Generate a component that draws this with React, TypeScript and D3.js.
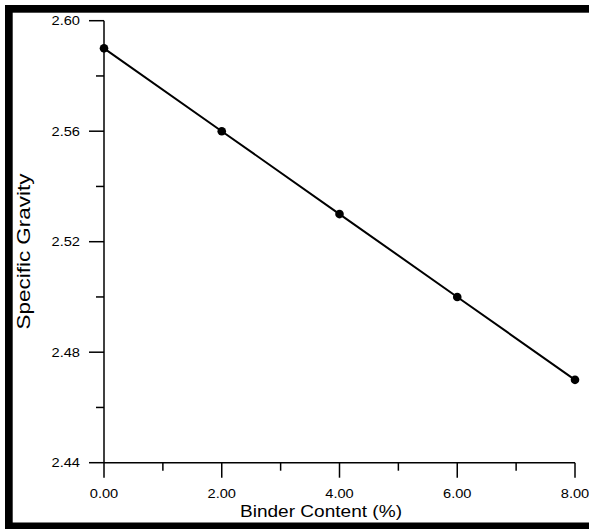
import React from "react";
import * as d3 from "d3";

const binderContent = [0, 2, 4, 6, 8];
const specificGravity = [2.59, 2.56, 2.53, 2.5, 2.47];
const xMajorTicks = [0, 2, 4, 6, 8];
const xMinorTicks = [1, 3, 5, 7];
const yMajorTicks = [2.44, 2.48, 2.52, 2.56, 2.6];
const yMinorTicks = [2.46, 2.5, 2.54, 2.58];
const xTitle = "Binder Content (%)";
const yTitle = "Specific Gravity";

const W = 589;
const H = 529;
const left = 104;
const right = 575;
const top = 20.7;
const bottom = 462.7;
const FONT = "'Liberation Sans', Arial, sans-serif";

export default function App() {
  const x = d3.scaleLinear().domain([0, 8]).range([left, right]);
  const y = d3.scaleLinear().domain([2.44, 2.6]).range([bottom, top]);
  const line = d3
    .line<number>()
    .x((_, i) => x(binderContent[i]))
    .y((d) => y(d));

  return (
    <div style={{ position: "absolute", left: 0, top: 0, width: W, height: H, overflow: "hidden" }}>
      <svg width={W} height={H} style={{ display: "block", background: "#fff" }}>
        <rect x={0} y={0} width={W} height={H} fill="#fff" />
        {/* frame */}
        <rect x={5} y={5} width={W - 5} height={7.7} fill="#000" />
        <rect x={5} y={5} width={7.7} height={H - 5} fill="#000" />
        <rect x={5} y={522.5} width={W - 5} height={H - 522.5} fill="#000" />
        {/* axes */}
        <line x1={left} x2={left} y1={top} y2={bottom} stroke="#000" strokeWidth={1.5} />
        <line x1={left} x2={right} y1={bottom} y2={bottom} stroke="#000" strokeWidth={1.5} />
        {yMajorTicks.map((t) => (
          <g key={"ym" + t}>
            <line x1={left - 15} x2={left} y1={y(t)} y2={y(t)} stroke="#000" strokeWidth={1.5} />
            <text
              x={80}
              y={y(t) + 4.7}
              textAnchor="end"
              fontFamily={FONT}
              fontSize={13}
              textLength={28.5}
              lengthAdjust="spacingAndGlyphs"
              fill="#000"
            >
              {t.toFixed(2)}
            </text>
          </g>
        ))}
        {yMinorTicks.map((t) => (
          <line key={"yn" + t} x1={left - 8} x2={left} y1={y(t)} y2={y(t)} stroke="#000" strokeWidth={1.5} />
        ))}
        {xMajorTicks.map((t) => (
          <g key={"xm" + t}>
            <line x1={x(t)} x2={x(t)} y1={bottom} y2={bottom + 15} stroke="#000" strokeWidth={1.5} />
            <text
              x={x(t)}
              y={498.3}
              textAnchor="middle"
              fontFamily={FONT}
              fontSize={13}
              textLength={28.5}
              lengthAdjust="spacingAndGlyphs"
              fill="#000"
            >
              {t.toFixed(2)}
            </text>
          </g>
        ))}
        {xMinorTicks.map((t) => (
          <line key={"xn" + t} x1={x(t)} x2={x(t)} y1={bottom} y2={bottom + 8} stroke="#000" strokeWidth={1.5} />
        ))}
        {/* titles */}
        <text
          x={321}
          y={517}
          textAnchor="middle"
          fontFamily={FONT}
          fontSize={17}
          textLength={162}
          lengthAdjust="spacingAndGlyphs"
          fill="#000"
        >
          {xTitle}
        </text>
        <text
          transform={`translate(30, 251.5) rotate(-90)`}
          textAnchor="middle"
          fontFamily={FONT}
          fontSize={18.5}
          textLength={156}
          lengthAdjust="spacingAndGlyphs"
          fill="#000"
        >
          {yTitle}
        </text>
        {/* data */}
        <path d={line(specificGravity) || ""} fill="none" stroke="#000" strokeWidth={2} />
        {specificGravity.map((v, i) => (
          <circle key={i} cx={x(binderContent[i])} cy={y(v)} r={4.3} fill="#000" />
        ))}
      </svg>
    </div>
  );
}
